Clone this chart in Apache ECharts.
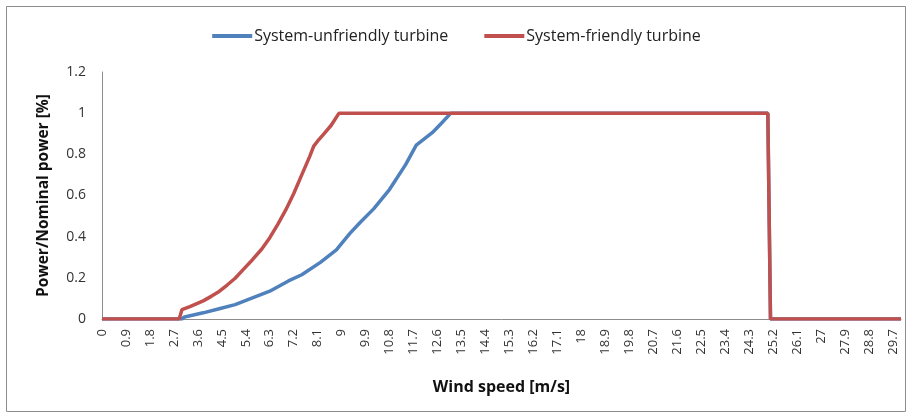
<!DOCTYPE html>
<html>
<head>
<meta charset="utf-8">
<script src="https://cdn.jsdelivr.net/npm/echarts@6/dist/echarts.min.js"></script>
<style>
  html, body { margin: 0; padding: 0; background: #fff; }
  #powerChart { width: 913px; height: 419px; }
</style>
</head>
<body>
<div id="powerChart"></div>
<script>
// wind speed [m/s] / power ratio
const unfriendlySpeed = [0, 3.0, 3.1, 3.8, 4.4, 5.0, 5.6, 6.3, 7.0, 7.5, 8.2, 8.8, 9.3, 9.7, 10.2, 10.8, 11.4, 11.8, 12.1, 12.4, 12.7, 13.1, 25.0, 25.1, 30];
const unfriendlyPower = [0, 0, 0.01, 0.03, 0.05, 0.07, 0.1, 0.135, 0.185, 0.215, 0.275, 0.336, 0.415, 0.47, 0.535, 0.63, 0.75, 0.845, 0.875, 0.905, 0.945, 1, 1, 0, 0];

const friendlySpeed = [0, 2.9, 3.0, 3.3, 3.8, 4.1, 4.4, 4.7, 5.0, 5.3, 5.65, 6.0, 6.3, 6.6, 6.9, 7.2, 7.5, 7.8, 7.95, 8.1, 8.3, 8.6, 8.9, 25.0, 25.1, 30];
const friendlyPower = [0, 0, 0.045, 0.06, 0.088, 0.11, 0.134, 0.165, 0.198, 0.24, 0.288, 0.34, 0.395, 0.46, 0.53, 0.61, 0.70, 0.79, 0.84, 0.865, 0.895, 0.94, 1, 1, 0, 0];

const seriesNames = ['System-unfriendly turbine', 'System-friendly turbine'];

function pairs(xs, ys) {
  return xs.map(function (x, i) { return [x, ys[i]]; });
}

var powerChart = echarts.init(document.getElementById('powerChart'));
var font = '"Open Sans", "Noto Sans", sans-serif';

option = {
  animation: false,
  textStyle: { fontFamily: font },
  graphic: [{
    type: 'rect',
    shape: { x: 6.5, y: 6.5, width: 899, height: 405 },
    style: { fill: 'none', stroke: '#8c8c8c', lineWidth: 1 }
  }],
  legend: {
    top: 23,
    left: 'center',
    icon: 'rect',
    itemWidth: 40,
    itemHeight: 4,
    itemGap: 36,
    textStyle: { fontSize: 16, color: '#222', fontFamily: font, padding: [0, 0, 0, -3] },
    data: seriesNames
  },
  grid: {
    top: 72,
    left: 102,
    right: 12,
    bottom: 100
  },
  xAxis: {
    type: 'value',
    min: 0,
    max: 30,
    interval: 0.9,
    name: 'Wind speed [m/s]',
    nameLocation: 'middle',
    nameGap: 60,
    nameTextStyle: { fontSize: 16, fontWeight: 'bold', color: '#111', fontFamily: font },
    axisLine: { lineStyle: { color: '#8c8c8c' } },
    axisTick: { show: false },
    splitLine: { show: false },
    axisLabel: {
      rotate: 90,
      margin: 10,
      fontSize: 13,
      color: '#333',
      showMaxLabel: false,
      fontFamily: font
    }
  },
  yAxis: {
    type: 'value',
    min: 0,
    max: 1.2,
    interval: 0.2,
    name: 'Power/Nominal power [%]',
    nameLocation: 'middle',
    nameGap: 50,
    nameTextStyle: { fontSize: 15.5, fontWeight: 'bold', color: '#111', fontFamily: font },
    axisLine: { show: true, lineStyle: { color: '#8c8c8c' } },
    axisTick: { show: false },
    splitLine: { show: false },
    axisLabel: { fontSize: 14, color: '#333', margin: 16, fontFamily: font }
  },
  series: [
    {
      type: 'line',
      name: seriesNames[0],
      color: '#4f81bd',
      showSymbol: false,
      lineStyle: { width: 3.5 },
      data: pairs(unfriendlySpeed, unfriendlyPower)
    },
    {
      type: 'line',
      name: seriesNames[1],
      color: '#c0504d',
      showSymbol: false,
      lineStyle: { width: 3.5 },
      data: pairs(friendlySpeed, friendlyPower)
    }
  ]
};
powerChart.setOption(option);
</script>
</body>
</html>
